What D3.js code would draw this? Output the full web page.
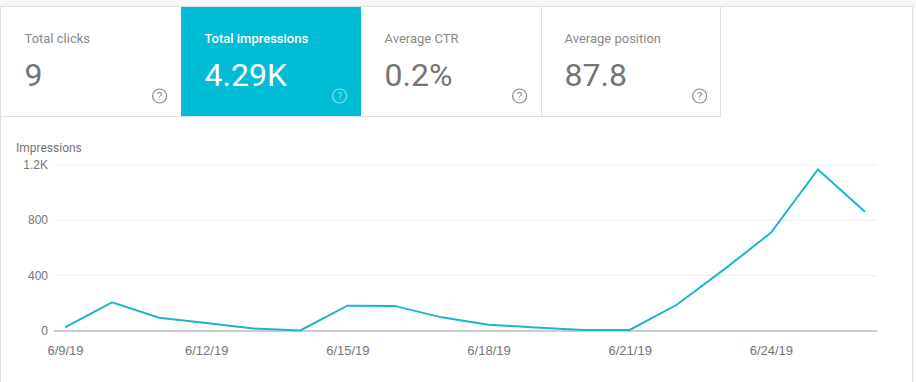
<!DOCTYPE html>
<html>
<head>
<meta charset="utf-8">
<script src="https://cdn.jsdelivr.net/npm/d3@7"></script>
<style>
  html, body { margin: 0; padding: 0; background: #fff; overflow: hidden; }
  svg { display: block; font-family: Roboto, sans-serif; }
  .tick text { font-size: 12px; fill: #757575; }
  .x-axis .tick text { font-size: 13px; }
</style>
</head>
<body>
<svg id="chart" width="916" height="382"></svg>
<script>
// cards
const cardNames = ["Total clicks", "Total impressions", "Average CTR", "Average position"];
const cardValues = ["9", "4.29K", "0.2%", "87.8"];
const activeCard = "Total impressions";

// impressions per day
const days = ["2019-06-09", "2019-06-10", "2019-06-11", "2019-06-12", "2019-06-13", "2019-06-14",
  "2019-06-15", "2019-06-16", "2019-06-17", "2019-06-18", "2019-06-19", "2019-06-20",
  "2019-06-21", "2019-06-22", "2019-06-23", "2019-06-24", "2019-06-25", "2019-06-26"];
const impressions = [23, 204, 92, 54, 14, 0, 179, 178, 95, 42, 22, 3, 4, 186, 440, 706, 1164, 858];
const yTicks = [0, 400, 800, 1200];
const xTicks = ["2019-06-09", "2019-06-12", "2019-06-15", "2019-06-18", "2019-06-21", "2019-06-24"];

const width = 916, height = 382;
const parseDay = d3.timeParse("%Y-%m-%d");
const svg = d3.select("#chart");

// page background and the white panel
svg.append("rect").attr("width", width).attr("height", height).attr("fill", "#f7f7f7");
svg.append("rect").attr("x", 0.5).attr("y", 6.5).attr("width", 912).attr("height", height)
  .attr("fill", "#fff").attr("stroke", "#e0e0e0");

// --- cards ---
const cardX = d3.scaleBand().domain(cardNames).range([1, 721]);
const card = svg.append("g").selectAll("g").data(cardNames).join("g")
  .attr("transform", d => `translate(${cardX(d)},7)`);

card.append("rect").attr("width", cardX.bandwidth()).attr("height", 110)
  .attr("fill", d => d === activeCard ? "#00bcd4" : "#fff");
card.filter(d => d === cardNames[3]).append("line")
  .attr("x1", 0.5).attr("x2", 0.5).attr("y2", 110).attr("stroke", "#e0e0e0");
card.filter(d => d === cardNames[3]).append("line")
  .attr("x1", cardX.bandwidth() - 0.5).attr("x2", cardX.bandwidth() - 0.5).attr("y2", 110).attr("stroke", "#e0e0e0");

card.append("text").attr("x", 23.5).attr("y", 36)
  .style("font-size", "13px").style("font-weight", d => d === activeCard ? 500 : 400)
  .attr("fill", d => d === activeCard ? "#fff" : "#8a8a8a").text(d => d);
card.append("text").attr("x", 23.5).attr("y", 79)
  .style("font-size", "32px")
  .attr("fill", d => d === activeCard ? "#fff" : "#757575").text((d, i) => cardValues[i]);

// help icon
const help = card.append("g").attr("transform", "translate(158.6,89)");
help.append("circle").attr("r", 7).attr("fill", "none").attr("stroke-width", 1.2)
  .attr("stroke", d => d === activeCard ? "#7fe3ef" : "#8a8a8a");
help.append("text").attr("text-anchor", "middle").attr("y", 4).style("font-size", "11px")
  .attr("fill", d => d === activeCard ? "#7fe3ef" : "#8a8a8a").text("?");

svg.append("line").attr("x1", 1).attr("x2", 721).attr("y1", 116.5).attr("y2", 116.5).attr("stroke", "#e0e0e0");

// --- line chart ---
const x = d3.scaleTime().domain(d3.extent(days, parseDay)).range([65, 865]);
const y = d3.scaleLinear().domain([0, 1200]).range([330.5, 164.5]);

const yAxis = svg.append("g").attr("transform", "translate(54,0)")
  .call(d3.axisLeft(y).tickValues(yTicks).tickSize(0).tickPadding(6)
    .tickFormat(d => d >= 1000 ? d / 1000 + "K" : d));
yAxis.select(".domain").remove();
yAxis.selectAll(".tick line").attr("x2", 823)
  .attr("stroke", d => d === 0 ? "#9e9e9e" : "#eeeeee");

const xAxis = svg.append("g").attr("class", "x-axis").attr("transform", "translate(0,331)")
  .call(d3.axisBottom(x).tickValues(xTicks.map(parseDay)).tickSize(0).tickPadding(15)
    .tickFormat(d3.timeFormat("%-m/%-d/%y")));
xAxis.select(".domain").remove();

svg.append("text").attr("x", 16).attr("y", 152).style("font-size", "12px")
  .attr("fill", "#757575").text("Impressions");

svg.append("path").datum(days.map((d, i) => [parseDay(d), impressions[i]]))
  .attr("fill", "none").attr("stroke", "#1fb5c8").attr("stroke-width", 2)
  .attr("d", d3.line().x(d => x(d[0])).y(d => y(d[1])));
</script>
</body>
</html>
